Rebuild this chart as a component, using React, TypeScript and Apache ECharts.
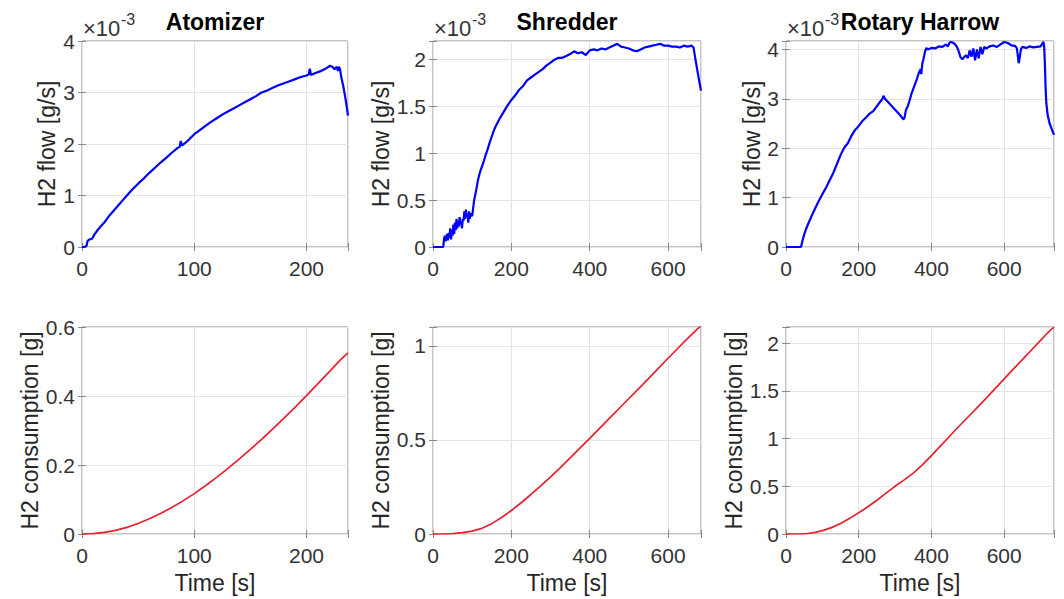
import React, { useEffect, useRef } from "react";
import * as echarts from "echarts";

// ---------- DATA ----------
// Atomizer H2 flow (x10^-3 g/s)
const atomizerFlowT = [0, 2, 4, 5, 7, 9, 11, 14, 17, 20, 24, 28, 32, 36, 40, 45, 50, 55, 60, 65, 70, 75, 80, 85, 87, 88, 89, 92, 96, 100, 105, 110, 115, 120, 125, 130, 135, 140, 145, 150, 155, 160, 165, 170, 175, 180, 185, 190, 195, 200, 202, 203, 204, 208, 212, 216, 219, 221, 223, 225, 227, 228, 229, 230, 231, 233, 235, 237];
const atomizerFlowV = [0, 0, 0.02, 0.12, 0.15, 0.16, 0.24, 0.33, 0.41, 0.48, 0.6, 0.7, 0.8, 0.9, 1.0, 1.12, 1.23, 1.33, 1.44, 1.54, 1.64, 1.73, 1.83, 1.92, 1.94, 2.06, 1.97, 2.02, 2.1, 2.19, 2.27, 2.35, 2.43, 2.5, 2.57, 2.63, 2.69, 2.75, 2.81, 2.87, 2.93, 3.0, 3.04, 3.09, 3.14, 3.18, 3.22, 3.26, 3.3, 3.33, 3.35, 3.46, 3.34, 3.38, 3.41, 3.45, 3.49, 3.52, 3.5, 3.45, 3.5, 3.42, 3.5, 3.44, 3.3, 3.1, 2.85, 2.55];
// Atomizer H2 consumption (g)
const atomizerConsT = [0, 10, 20, 30, 40, 50, 60, 70, 80, 90, 100, 110, 120, 130, 140, 150, 160, 170, 180, 190, 200, 210, 220, 230, 237];
const atomizerConsV = [0, 0.001, 0.0045, 0.0106, 0.0193, 0.0305, 0.044, 0.0594, 0.0768, 0.096, 0.117, 0.14, 0.164, 0.19, 0.217, 0.245, 0.274, 0.305, 0.336, 0.368, 0.401, 0.435, 0.469, 0.504, 0.525];

// Shredder H2 flow (x10^-3 g/s)
const shredderFlowT = [0, 26, 28, 30, 32, 34, 36, 38, 40, 42, 44, 46, 48, 50, 52, 54, 56, 58, 60, 62, 64, 66, 68, 70, 72, 74, 76, 78, 80, 82, 84, 86, 88, 90, 92, 94, 96, 98, 100, 102, 105, 110, 115, 120, 125, 130, 135, 140, 145, 150, 155, 160, 170, 180, 190, 200, 210, 220, 230, 240, 250, 260, 270, 280, 290, 300, 310, 320, 330, 340, 350, 360, 370, 380, 390, 400, 410, 420, 430, 440, 450, 460, 470, 480, 490, 500, 510, 520, 530, 540, 550, 560, 570, 580, 590, 600, 610, 620, 630, 640, 650, 660, 665, 670, 675, 680, 684];
const shredderFlowV = [0, 0, 0.08, 0.12, 0.06, 0.1, 0.14, 0.07, 0.15, 0.1, 0.2, 0.08, 0.18, 0.12, 0.24, 0.14, 0.26, 0.18, 0.3, 0.2, 0.28, 0.22, 0.32, 0.24, 0.27, 0.2, 0.3, 0.28, 0.38, 0.3, 0.4, 0.32, 0.36, 0.26, 0.38, 0.3, 0.36, 0.34, 0.33, 0.4, 0.5, 0.6, 0.72, 0.8, 0.86, 0.92, 0.99, 1.05, 1.12, 1.18, 1.24, 1.29, 1.37, 1.44, 1.51, 1.57, 1.62, 1.68, 1.72, 1.78, 1.81, 1.84, 1.87, 1.9, 1.94, 1.97, 2.0, 2.02, 2.02, 2.04, 2.06, 2.09, 2.07, 2.08, 2.05, 2.1, 2.11, 2.1, 2.12, 2.11, 2.13, 2.15, 2.17, 2.14, 2.13, 2.12, 2.1, 2.09, 2.11, 2.13, 2.14, 2.15, 2.16, 2.17, 2.15, 2.15, 2.14, 2.14, 2.13, 2.15, 2.14, 2.15, 2.13, 2.0, 1.88, 1.76, 1.67];
// Shredder H2 consumption (g)
const shredderConsT = [0, 25, 50, 75, 100, 125, 150, 175, 200, 225, 250, 275, 300, 325, 350, 375, 400, 425, 450, 475, 500, 525, 550, 575, 600, 625, 650, 675, 684];
const shredderConsV = [0, 0, 0.0025, 0.0075, 0.015, 0.03, 0.055, 0.088, 0.125, 0.166, 0.21, 0.256, 0.303, 0.353, 0.404, 0.456, 0.508, 0.561, 0.614, 0.667, 0.72, 0.773, 0.826, 0.88, 0.934, 0.987, 1.04, 1.09, 1.105];

// Rotary Harrow H2 flow (x10^-3 g/s)
const harrowFlowT = [0, 40, 42, 45, 50, 55, 60, 70, 80, 90, 100, 110, 120, 130, 140, 150, 160, 170, 180, 190, 200, 210, 220, 230, 240, 250, 260, 265, 268, 272, 280, 290, 300, 310, 318, 323, 326, 330, 335, 340, 345, 350, 355, 360, 365, 370, 372, 375, 378, 382, 386, 390, 400, 410, 420, 430, 440, 445, 450, 455, 460, 465, 470, 475, 480, 485, 490, 495, 500, 505, 510, 515, 520, 525, 530, 535, 540, 545, 550, 560, 570, 580, 590, 600, 610, 620, 630, 635, 640, 643, 646, 650, 660, 670, 680, 690, 700, 705, 708, 710, 712, 714, 716, 720, 725, 730, 737];
const harrowFlowV = [0, 0, 0.02, 0.12, 0.25, 0.36, 0.45, 0.62, 0.78, 0.93, 1.07, 1.2, 1.35, 1.5, 1.68, 1.86, 2.01, 2.1, 2.25, 2.37, 2.45, 2.55, 2.62, 2.7, 2.75, 2.85, 2.95, 3.0, 3.06, 3.0, 2.94, 2.86, 2.78, 2.7, 2.63, 2.58, 2.62, 2.78, 2.85, 2.97, 3.1, 3.2, 3.3, 3.4, 3.52, 3.6, 3.5, 3.72, 3.8, 3.95, 4.03, 4.0, 4.03, 4.02, 4.06, 4.05, 4.1, 4.06, 4.14, 4.15, 4.13, 4.1, 4.05, 3.96, 3.84, 3.8, 3.85, 3.88, 3.82, 3.98, 3.85, 4.02, 3.78, 4.0, 3.82, 4.05, 3.9, 4.05, 4.02, 4.06, 4.08, 4.05, 4.1, 4.15, 4.13, 4.08, 4.07, 4.02, 3.72, 3.85, 4.0, 4.05, 4.03, 4.06, 4.04, 4.05, 4.06, 4.12, 4.15, 4.05, 3.7, 3.2, 2.9, 2.65, 2.5, 2.4, 2.27];
// Rotary Harrow H2 consumption (g)
const harrowConsT = [0, 40, 60, 80, 100, 125, 150, 175, 200, 225, 250, 275, 300, 325, 350, 375, 400, 425, 450, 475, 500, 525, 550, 575, 600, 625, 650, 675, 700, 720, 737];
const harrowConsV = [0, 0, 0.005, 0.017, 0.035, 0.067, 0.11, 0.164, 0.222, 0.285, 0.354, 0.428, 0.5, 0.567, 0.638, 0.725, 0.822, 0.923, 1.025, 1.127, 1.224, 1.322, 1.422, 1.524, 1.626, 1.728, 1.828, 1.929, 2.03, 2.11, 2.17];

const titles = ["Atomizer", "Shredder", "Rotary Harrow"];
const flowName = "H2 flow [g/s]";
const consName = "H2 consumption [g]";
const timeName = "Time [s]";
const expBase = "×10";
const expPow = "-3";

// ---------- STYLE ----------
const FONT = "'Liberation Sans', Arial, Helvetica, sans-serif";
const BORDER = "#8a8a8a";
const GRIDLINE = "#e4e4e4";
const TICKCOL = "#333333";
const NAMECOL = "#262626";
const BLUE = "#0000ff";
const RED = "#e8202f";
const TICKSIZE = 21;
const NAMESIZE = 23;

const zip = (t: number[], v: number[]) => t.map((x, i) => [x, v[i]]);

const fmt = (interval: number) => (v: number) => {
  const r = v / interval;
  if (Math.abs(r - Math.round(r)) > 1e-6) return "";
  return String(parseFloat(v.toFixed(4)));
};

const colsX = [
  { left: 82, width: 266 },
  { left: 433, width: 268 },
  { left: 786, width: 268 },
];
const rowsY = [
  { top: 41, height: 206 },
  { top: 327, height: 207 },
];

type Panel = {
  col: number;
  row: number;
  xMax: number;
  xInt: number;
  yMax: number;
  yInt: number;
  data: number[][];
  color: string;
  width: number;
  yName: string;
  yGap: number;
};

const panels: Panel[] = [
  { col: 0, row: 0, xMax: 237, xInt: 100, yMax: 4, yInt: 1, data: zip(atomizerFlowT, atomizerFlowV), color: BLUE, width: 2.2, yName: flowName, yGap: 24 },
  { col: 1, row: 0, xMax: 684, xInt: 200, yMax: 2.2, yInt: 0.5, data: zip(shredderFlowT, shredderFlowV), color: BLUE, width: 2.2, yName: flowName, yGap: 39 },
  { col: 2, row: 0, xMax: 737, xInt: 200, yMax: 4.17, yInt: 1, data: zip(harrowFlowT, harrowFlowV), color: BLUE, width: 2.2, yName: flowName, yGap: 23 },
  { col: 0, row: 1, xMax: 237, xInt: 100, yMax: 0.6, yInt: 0.2, data: zip(atomizerConsT, atomizerConsV), color: RED, width: 1.7, yName: consName, yGap: 38 },
  { col: 1, row: 1, xMax: 684, xInt: 200, yMax: 1.1, yInt: 0.5, data: zip(shredderConsT, shredderConsV), color: RED, width: 1.7, yName: consName, yGap: 39 },
  { col: 2, row: 1, xMax: 737, xInt: 200, yMax: 2.17, yInt: 0.5, data: zip(harrowConsT, harrowConsV), color: RED, width: 1.7, yName: consName, yGap: 40 },
];

export default function App() {
  const ref = useRef<HTMLDivElement>(null);
  useEffect(() => {
    if (!ref.current) return;
    const chart = echarts.init(ref.current, null, { renderer: "svg" });
    const grid: any[] = [];
    const xAxis: any[] = [];
    const yAxis: any[] = [];
    const series: any[] = [];
    const graphic: any[] = [];

    panels.forEach((p, i) => {
      const c = colsX[p.col];
      const r = rowsY[p.row];
      grid.push({
        left: c.left,
        top: r.top,
        width: c.width,
        height: r.height,
        show: true,
        borderColor: BORDER,
        borderWidth: 1,
        backgroundColor: "#ffffff",
        containLabel: false,
      });
      const tick = { show: true, inside: true, length: 4, lineStyle: { color: BORDER, width: 1 } };
      const isBottom = p.row === 1;
      xAxis.push({
        type: "value",
        gridIndex: i,
        position: "bottom",
        min: 0,
        max: p.xMax,
        interval: p.xInt,
        axisLine: { show: false },
        axisTick: tick,
        splitLine: { show: true, lineStyle: { color: GRIDLINE, width: 1 } },
        axisLabel: {
          margin: 11,
          fontSize: TICKSIZE,
          color: TICKCOL,
          fontFamily: FONT,
          formatter: fmt(p.xInt),
        },
        name: isBottom ? timeName : "",
        nameLocation: "middle",
        nameGap: 37,
        nameTextStyle: { fontSize: NAMESIZE, color: NAMECOL, fontFamily: FONT },
      });
      xAxis.push({
        type: "value",
        gridIndex: i,
        position: "top",
        min: 0,
        max: p.xMax,
        interval: p.xInt,
        axisLine: { show: false },
        axisTick: tick,
        splitLine: { show: false },
        axisLabel: { show: false },
      });
      yAxis.push({
        type: "value",
        gridIndex: i,
        position: "left",
        min: 0,
        max: p.yMax,
        interval: p.yInt,
        axisLine: { show: false },
        axisTick: tick,
        splitLine: { show: true, lineStyle: { color: GRIDLINE, width: 1 } },
        axisLabel: {
          margin: 7,
          fontSize: TICKSIZE,
          color: TICKCOL,
          fontFamily: FONT,
          formatter: fmt(p.yInt),
        },
        name: p.yName,
        nameLocation: "middle",
        nameGap: p.yGap,
        nameTextStyle: { fontSize: NAMESIZE, color: NAMECOL, fontFamily: FONT },
      });
      yAxis.push({
        type: "value",
        gridIndex: i,
        position: "right",
        min: 0,
        max: p.yMax,
        interval: p.yInt,
        axisLine: { show: false },
        axisTick: tick,
        splitLine: { show: false },
        axisLabel: { show: false },
      });
      series.push({
        type: "line",
        xAxisIndex: 2 * i,
        yAxisIndex: 2 * i,
        data: p.data,
        showSymbol: false,
        symbol: "none",
        lineStyle: { color: p.color, width: p.width },
        itemStyle: { color: p.color },
        z: 5,
      });

      if (p.row === 0) {
        graphic.push({
          type: "text",
          x: c.left + c.width / 2,
          y: 22,
          style: {
            text: titles[p.col],
            font: `bold 23px ${FONT}`,
            fill: "#000000",
            textAlign: "center",
            textVerticalAlign: "middle",
          },
        });
        graphic.push({
          type: "text",
          x: c.left + 1,
          y: 28,
          style: {
            text: expBase,
            font: `22px ${FONT}`,
            fill: TICKCOL,
            textAlign: "left",
            textVerticalAlign: "middle",
          },
        });
        graphic.push({
          type: "text",
          x: c.left + 39,
          y: 19,
          style: {
            text: expPow,
            font: `16px ${FONT}`,
            fill: TICKCOL,
            textAlign: "left",
            textVerticalAlign: "middle",
          },
        });
      }
    });

    chart.setOption({
      animation: false,
      backgroundColor: "#ffffff",
      grid,
      xAxis,
      yAxis,
      series,
      graphic,
    });
    return () => chart.dispose();
  }, []);
  return (
    <div
      ref={ref}
      style={{ position: "fixed", left: 0, top: 0, width: 1064, height: 599 }}
    />
  );
}
